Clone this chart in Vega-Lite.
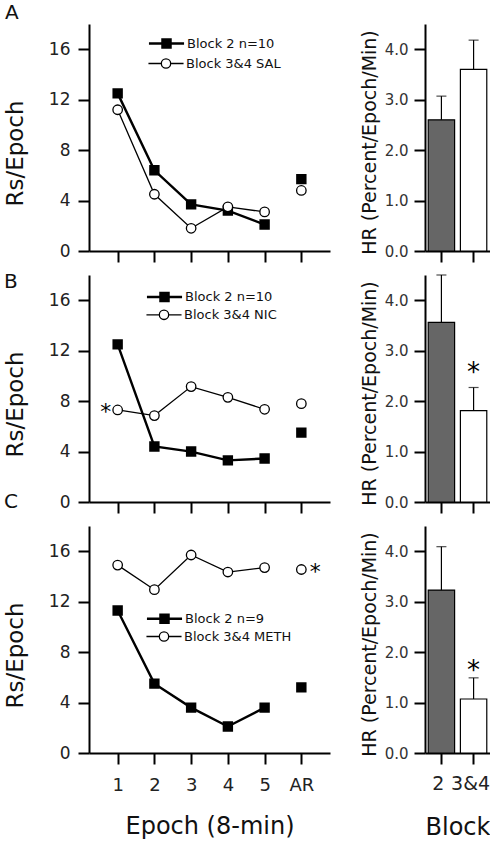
{
  "$schema": "https://vega.github.io/schema/vega-lite/v6.json",
  "background": "white",
  "padding": {"left": 4, "top": 3, "right": 0, "bottom": 0},
  "datasets": {
    "lines": [
      {"panel": "A", "series": "Block 2 n=10", "epoch": "1", "value": 12.5},
      {"panel": "A", "series": "Block 2 n=10", "epoch": "2", "value": 6.4},
      {"panel": "A", "series": "Block 2 n=10", "epoch": "3", "value": 3.7},
      {"panel": "A", "series": "Block 2 n=10", "epoch": "4", "value": 3.2},
      {"panel": "A", "series": "Block 2 n=10", "epoch": "5", "value": 2.1},
      {"panel": "A", "series": "Block 2 n=10", "epoch": "AR", "value": 5.7},
      {"panel": "A", "series": "Block 3&4 SAL", "epoch": "1", "value": 11.2},
      {"panel": "A", "series": "Block 3&4 SAL", "epoch": "2", "value": 4.5},
      {"panel": "A", "series": "Block 3&4 SAL", "epoch": "3", "value": 1.8},
      {"panel": "A", "series": "Block 3&4 SAL", "epoch": "4", "value": 3.5},
      {"panel": "A", "series": "Block 3&4 SAL", "epoch": "5", "value": 3.1},
      {"panel": "A", "series": "Block 3&4 SAL", "epoch": "AR", "value": 4.8},
      {"panel": "B", "series": "Block 2 n=10", "epoch": "1", "value": 12.5},
      {"panel": "B", "series": "Block 2 n=10", "epoch": "2", "value": 4.4},
      {"panel": "B", "series": "Block 2 n=10", "epoch": "3", "value": 4.0},
      {"panel": "B", "series": "Block 2 n=10", "epoch": "4", "value": 3.3},
      {"panel": "B", "series": "Block 2 n=10", "epoch": "5", "value": 3.45},
      {"panel": "B", "series": "Block 2 n=10", "epoch": "AR", "value": 5.5},
      {"panel": "B", "series": "Block 3&4 NIC", "epoch": "1", "value": 7.3, "star": "*"},
      {"panel": "B", "series": "Block 3&4 NIC", "epoch": "2", "value": 6.85},
      {"panel": "B", "series": "Block 3&4 NIC", "epoch": "3", "value": 9.15},
      {"panel": "B", "series": "Block 3&4 NIC", "epoch": "4", "value": 8.3},
      {"panel": "B", "series": "Block 3&4 NIC", "epoch": "5", "value": 7.35},
      {"panel": "B", "series": "Block 3&4 NIC", "epoch": "AR", "value": 7.8},
      {"panel": "C", "series": "Block 2 n=9", "epoch": "1", "value": 11.3},
      {"panel": "C", "series": "Block 2 n=9", "epoch": "2", "value": 5.5},
      {"panel": "C", "series": "Block 2 n=9", "epoch": "3", "value": 3.6},
      {"panel": "C", "series": "Block 2 n=9", "epoch": "4", "value": 2.1},
      {"panel": "C", "series": "Block 2 n=9", "epoch": "5", "value": 3.6},
      {"panel": "C", "series": "Block 2 n=9", "epoch": "AR", "value": 5.2},
      {"panel": "C", "series": "Block 3&4 METH", "epoch": "1", "value": 14.9},
      {"panel": "C", "series": "Block 3&4 METH", "epoch": "2", "value": 12.95},
      {"panel": "C", "series": "Block 3&4 METH", "epoch": "3", "value": 15.7},
      {"panel": "C", "series": "Block 3&4 METH", "epoch": "4", "value": 14.35},
      {"panel": "C", "series": "Block 3&4 METH", "epoch": "5", "value": 14.7},
      {"panel": "C", "series": "Block 3&4 METH", "epoch": "AR", "value": 14.55, "star": "*"}
    ],
    "bars": [
      {"panel": "A", "block": "2", "value": 2.6, "hi": 3.07},
      {"panel": "A", "block": "3&4", "value": 3.6, "hi": 4.18},
      {"panel": "B", "block": "2", "value": 3.56, "hi": 4.5},
      {"panel": "B", "block": "3&4", "value": 1.81, "hi": 2.27, "star_y": 2.63},
      {"panel": "C", "block": "2", "value": 3.23, "hi": 4.09},
      {"panel": "C", "block": "3&4", "value": 1.07, "hi": 1.49, "star_y": 1.7}
    ]
  },
  "columns": 2,
  "spacing": {"row": 24, "column": 95},
  "bounds": "flush",
  "resolve": {"scale": {"fill": "independent", "stroke": "independent"}, "legend": {"fill": "independent", "stroke": "independent"}},
  "concat": [
    {
      "width": 241, "height": 227,
      "title": {"text": "A", "anchor": "start", "frame": "group", "dx": -84, "fontSize": 20, "offset": -15, "baseline": "alphabetic"},
      "data": {"name": "lines"},
      "transform": [{"filter": "datum.panel == 'A'"}],
      "encoding": {
        "x": {"field": "epoch", "type": "ordinal", "sort": ["1", "2", "3", "4", "5", "AR"], "scale": {"type": "point", "padding": 0.78}, "axis": {"title": null, "labels": false}},
        "y": {"field": "value", "type": "quantitative", "scale": {"domain": [0, 18], "nice": false}, "axis": {"values": [0, 4, 8, 12, 16], "title": "Rs/Epoch", "titleX": -62, "titleY": 129, "titleFontSize": 23, "labelFontSize": 17, "labelPadding": 8}}
      },
      "layer": [
        {"transform": [{"filter": "datum.epoch != 'AR' && indexof(datum.series, 'Block 2 ') == 0"}], "mark": {"type": "line", "color": "black", "strokeWidth": 2.4}},
        {"transform": [{"filter": "datum.epoch != 'AR' && indexof(datum.series, 'Block 2 ') != 0"}], "mark": {"type": "line", "color": "black", "strokeWidth": 1.3}},
        {"transform": [{"filter": "indexof(datum.series, 'Block 2 ') == 0"}],
         "mark": {"type": "square", "size": 64, "stroke": "black", "strokeWidth": 2.4, "opacity": 1},
         "encoding": {"fill": {"field": "series", "type": "nominal", "scale": {"range": ["black"]},
           "legend": {"title": null, "orient": "none", "legendX": 67, "legendY": 9, "symbolSize": 324, "symbolType": "M-1.95,0H1.95M-0.45,-0.45H0.45V0.45H-0.45Z", "symbolStrokeColor": "black", "symbolStrokeWidth": 2.4, "symbolOpacity": 1, "labelFontSize": 13, "labelOffset": 10, "padding": 0, "labelColor": "#111"}}}},
        {"transform": [{"filter": "indexof(datum.series, 'Block 2 ') != 0"}],
         "mark": {"type": "circle", "size": 90, "fill": "white", "strokeWidth": 1.3, "opacity": 1},
         "encoding": {"stroke": {"field": "series", "type": "nominal", "scale": {"range": ["black"]},
           "legend": {"title": null, "orient": "none", "legendX": 67, "legendY": 29.5, "symbolSize": 324, "symbolType": "M-1.95,0H-0.52M0.52,0H1.95M0.52,0A0.52,0.52 0 1,1 -0.52,0A0.52,0.52 0 1,1 0.52,0Z", "symbolFillColor": "white", "symbolStrokeWidth": 1.3, "symbolOpacity": 1, "labelFontSize": 13, "labelOffset": 10, "padding": 0, "labelColor": "#111"}}}}
      ]
    },
    {
      "width": 65, "height": 227,
      "data": {"name": "bars"},
      "transform": [{"filter": "datum.panel == 'A'"}],
      "encoding": {
        "x": {"field": "block", "type": "nominal", "sort": ["2", "3&4"], "scale": {"paddingInner": 0.18, "paddingOuter": 0.1}, "axis": {"title": null, "labels": false}}
      },
      "layer": [
        {"mark": {"type": "bar", "stroke": "black", "strokeWidth": 1.2},
         "encoding": {
           "y": {"field": "value", "type": "quantitative", "scale": {"domain": [0, 4.5], "nice": false}, "axis": {"title": "HR (Percent/Epoch/Min)", "values": [0, 1, 2, 3, 4], "format": ".1f", "labelFontSize": 15, "labelPadding": 6, "labelColor": "#333", "titleFontSize": 19, "titleX": -46, "titleY": 118}},
           "fill": {"condition": {"test": "datum.block == '2'", "value": "#666666"}, "value": "white"}}},
        {"mark": {"type": "rule", "color": "black", "strokeWidth": 1.2}, "encoding": {"y": {"field": "value", "type": "quantitative"}, "y2": {"field": "hi"}}},
        {"mark": {"type": "tick", "color": "black", "size": 10, "thickness": 1.2}, "encoding": {"y": {"field": "hi", "type": "quantitative"}}}
      ]
    },
    {
      "width": 241, "height": 227,
      "title": {"text": "B", "anchor": "start", "frame": "group", "dx": -85, "fontSize": 20, "offset": -33, "baseline": "alphabetic"},
      "data": {"name": "lines"},
      "transform": [{"filter": "datum.panel == 'B'"}],
      "encoding": {
        "x": {"field": "epoch", "type": "ordinal", "sort": ["1", "2", "3", "4", "5", "AR"], "scale": {"type": "point", "padding": 0.78}, "axis": {"title": null, "labels": false}},
        "y": {"field": "value", "type": "quantitative", "scale": {"domain": [0, 18], "nice": false}, "axis": {"values": [0, 4, 8, 12, 16], "title": "Rs/Epoch", "titleX": -62, "titleY": 129, "titleFontSize": 23, "labelFontSize": 17, "labelPadding": 8}}
      },
      "layer": [
        {"transform": [{"filter": "datum.epoch != 'AR' && indexof(datum.series, 'Block 2 ') == 0"}], "mark": {"type": "line", "color": "black", "strokeWidth": 2.4}},
        {"transform": [{"filter": "datum.epoch != 'AR' && indexof(datum.series, 'Block 2 ') != 0"}], "mark": {"type": "line", "color": "black", "strokeWidth": 1.3}},
        {"transform": [{"filter": "indexof(datum.series, 'Block 2 ') == 0"}],
         "mark": {"type": "square", "size": 64, "stroke": "black", "strokeWidth": 2.4, "opacity": 1},
         "encoding": {"fill": {"field": "series", "type": "nominal", "scale": {"range": ["black"]},
           "legend": {"title": null, "orient": "none", "legendX": 65, "legendY": 11.5, "symbolSize": 324, "symbolType": "M-1.95,0H1.95M-0.45,-0.45H0.45V0.45H-0.45Z", "symbolStrokeColor": "black", "symbolStrokeWidth": 2.4, "symbolOpacity": 1, "labelFontSize": 13, "labelOffset": 10, "padding": 0, "labelColor": "#111"}}}},
        {"transform": [{"filter": "indexof(datum.series, 'Block 2 ') != 0"}],
         "mark": {"type": "circle", "size": 90, "fill": "white", "strokeWidth": 1.3, "opacity": 1},
         "encoding": {"stroke": {"field": "series", "type": "nominal", "scale": {"range": ["black"]},
           "legend": {"title": null, "orient": "none", "legendX": 65, "legendY": 29.8, "symbolSize": 324, "symbolType": "M-1.95,0H-0.52M0.52,0H1.95M0.52,0A0.52,0.52 0 1,1 -0.52,0A0.52,0.52 0 1,1 0.52,0Z", "symbolFillColor": "white", "symbolStrokeWidth": 1.3, "symbolOpacity": 1, "labelFontSize": 13, "labelOffset": 10, "padding": 0, "labelColor": "#111"}}}},
        {"transform": [{"filter": "datum.star == '*'"}], "mark": {"type": "text", "text": "*", "fontSize": 22, "dx": -12, "dy": 9, "baseline": "alphabetic", "align": "center", "color": "black"}}
      ]
    },
    {
      "width": 65, "height": 227,
      "data": {"name": "bars"},
      "transform": [{"filter": "datum.panel == 'B'"}],
      "encoding": {
        "x": {"field": "block", "type": "nominal", "sort": ["2", "3&4"], "scale": {"paddingInner": 0.18, "paddingOuter": 0.1}, "axis": {"title": null, "labels": false}}
      },
      "layer": [
        {"mark": {"type": "bar", "stroke": "black", "strokeWidth": 1.2},
         "encoding": {
           "y": {"field": "value", "type": "quantitative", "scale": {"domain": [0, 4.5], "nice": false}, "axis": {"title": "HR (Percent/Epoch/Min)", "values": [0, 1, 2, 3, 4], "format": ".1f", "labelFontSize": 15, "labelPadding": 6, "labelColor": "#333", "titleFontSize": 19, "titleX": -46, "titleY": 118}},
           "fill": {"condition": {"test": "datum.block == '2'", "value": "#666666"}, "value": "white"}}},
        {"mark": {"type": "rule", "color": "black", "strokeWidth": 1.2}, "encoding": {"y": {"field": "value", "type": "quantitative"}, "y2": {"field": "hi"}}},
        {"mark": {"type": "tick", "color": "black", "size": 10, "thickness": 1.2}, "encoding": {"y": {"field": "hi", "type": "quantitative"}}},
        {"transform": [{"filter": "isValid(datum.star_y)"}], "mark": {"type": "text", "text": "*", "fontSize": 26, "dy": 12, "baseline": "alphabetic", "align": "center", "color": "black"}, "encoding": {"y": {"field": "star_y", "type": "quantitative"}}}
      ]
    },
    {
      "width": 241, "height": 227,
      "title": {"text": "C", "anchor": "start", "frame": "group", "dx": -85, "fontSize": 20, "offset": -2, "baseline": "alphabetic"},
      "data": {"name": "lines"},
      "transform": [{"filter": "datum.panel == 'C'"}],
      "encoding": {
        "x": {"field": "epoch", "type": "ordinal", "sort": ["1", "2", "3", "4", "5", "AR"], "scale": {"type": "point", "padding": 0.78}, "axis": {"title": "Epoch (8-min)", "labelAngle": 0, "labelFontSize": 18, "labelBaseline": "alphabetic", "labelPadding": 26, "titleFontSize": 24, "titleBaseline": "alphabetic", "titleY": 80}},
        "y": {"field": "value", "type": "quantitative", "scale": {"domain": [0, 18], "nice": false}, "axis": {"values": [0, 4, 8, 12, 16], "title": "Rs/Epoch", "titleX": -62, "titleY": 129, "titleFontSize": 23, "labelFontSize": 17, "labelPadding": 8}}
      },
      "layer": [
        {"transform": [{"filter": "datum.epoch != 'AR' && indexof(datum.series, 'Block 2 ') == 0"}], "mark": {"type": "line", "color": "black", "strokeWidth": 2.4}},
        {"transform": [{"filter": "datum.epoch != 'AR' && indexof(datum.series, 'Block 2 ') != 0"}], "mark": {"type": "line", "color": "black", "strokeWidth": 1.3}},
        {"transform": [{"filter": "indexof(datum.series, 'Block 2 ') == 0"}],
         "mark": {"type": "square", "size": 64, "stroke": "black", "strokeWidth": 2.4, "opacity": 1},
         "encoding": {"fill": {"field": "series", "type": "nominal", "scale": {"range": ["black"]},
           "legend": {"title": null, "orient": "none", "legendX": 65, "legendY": 82.2, "symbolSize": 324, "symbolType": "M-1.95,0H1.95M-0.45,-0.45H0.45V0.45H-0.45Z", "symbolStrokeColor": "black", "symbolStrokeWidth": 2.4, "symbolOpacity": 1, "labelFontSize": 13, "labelOffset": 10, "padding": 0, "labelColor": "#111"}}}},
        {"transform": [{"filter": "indexof(datum.series, 'Block 2 ') != 0"}],
         "mark": {"type": "circle", "size": 90, "fill": "white", "strokeWidth": 1.3, "opacity": 1},
         "encoding": {"stroke": {"field": "series", "type": "nominal", "scale": {"range": ["black"]},
           "legend": {"title": null, "orient": "none", "legendX": 65, "legendY": 100.5, "symbolSize": 324, "symbolType": "M-1.95,0H-0.52M0.52,0H1.95M0.52,0A0.52,0.52 0 1,1 -0.52,0A0.52,0.52 0 1,1 0.52,0Z", "symbolFillColor": "white", "symbolStrokeWidth": 1.3, "symbolOpacity": 1, "labelFontSize": 13, "labelOffset": 10, "padding": 0, "labelColor": "#111"}}}},
        {"transform": [{"filter": "datum.star == '*'"}], "mark": {"type": "text", "text": "*", "fontSize": 22, "dx": 14, "dy": 9, "baseline": "alphabetic", "align": "center", "color": "black"}}
      ]
    },
    {
      "width": 65, "height": 227,
      "data": {"name": "bars"},
      "transform": [{"filter": "datum.panel == 'C'"}],
      "encoding": {
        "x": {"field": "block", "type": "nominal", "sort": ["2", "3&4"], "scale": {"paddingInner": 0.18, "paddingOuter": 0.1}, "axis": {"title": "Block", "labelAngle": 0, "labelFontSize": 19, "labelOffset": -3, "labelBaseline": "alphabetic", "labelPadding": 25, "titleFontSize": 24, "titleBaseline": "alphabetic", "titleY": 81}}
      },
      "layer": [
        {"mark": {"type": "bar", "stroke": "black", "strokeWidth": 1.2},
         "encoding": {
           "y": {"field": "value", "type": "quantitative", "scale": {"domain": [0, 4.5], "nice": false}, "axis": {"title": "HR (Percent/Epoch/Min)", "values": [0, 1, 2, 3, 4], "format": ".1f", "labelFontSize": 15, "labelPadding": 6, "labelColor": "#333", "titleFontSize": 19, "titleX": -46, "titleY": 118}},
           "fill": {"condition": {"test": "datum.block == '2'", "value": "#666666"}, "value": "white"}}},
        {"mark": {"type": "rule", "color": "black", "strokeWidth": 1.2}, "encoding": {"y": {"field": "value", "type": "quantitative"}, "y2": {"field": "hi"}}},
        {"mark": {"type": "tick", "color": "black", "size": 10, "thickness": 1.2}, "encoding": {"y": {"field": "hi", "type": "quantitative"}}},
        {"transform": [{"filter": "isValid(datum.star_y)"}], "mark": {"type": "text", "text": "*", "fontSize": 26, "dy": 12, "baseline": "alphabetic", "align": "center", "color": "black"}, "encoding": {"y": {"field": "star_y", "type": "quantitative"}}}
      ]
    }
  ],
  "config": {
    "font": "DejaVu Sans",
    "view": {"stroke": null},
    "axis": {"grid": false, "domainColor": "black", "domainWidth": 2, "tickColor": "black", "tickWidth": 2, "tickSize": 11, "labelColor": "#222", "titleColor": "#111", "titleFontWeight": "normal", "labelFont": "DejaVu Sans", "titleFont": "DejaVu Sans"},
    "title": {"font": "DejaVu Sans", "fontWeight": "normal", "color": "#111"},
    "legend": {"labelFont": "DejaVu Sans"}
  }
}
